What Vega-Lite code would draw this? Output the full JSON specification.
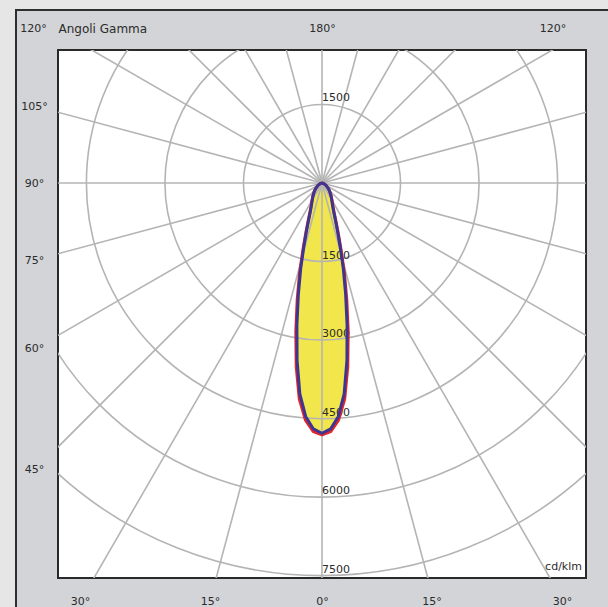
{
  "$schema": "https://vega.github.io/schema/vega-lite/v6.json",
  "width": 528,
  "height": 528,
  "autosize": "none",
  "padding": {"left": 58, "top": 50, "right": 22, "bottom": 29},
  "background": "#e6e6e6",
  "config": {
    "view": {"stroke": "#2a2a2a", "strokeWidth": 2},
    "font": "DejaVu Sans",
    "axis": {"labelFont": "DejaVu Sans", "labelFontSize": 11, "labelColor": "#2b2b2b", "domain": false, "ticks": false, "tickSize": 0, "grid": false, "titleFont": "DejaVu Sans"}
  },
  "datasets": {
    "lobe": [
      {"c": "red", "g": -90, "I": 0}, {"c": "red", "g": -80, "I": 10}, {"c": "red", "g": -70, "I": 40}, {"c": "red", "g": -60, "I": 90}, {"c": "red", "g": -50, "I": 150}, {"c": "red", "g": -45, "I": 195}, {"c": "red", "g": -40, "I": 245}, {"c": "red", "g": -35, "I": 305}, {"c": "red", "g": -30, "I": 385}, {"c": "red", "g": -25, "I": 500}, {"c": "red", "g": -22, "I": 630}, {"c": "red", "g": -20, "I": 780}, {"c": "red", "g": -18, "I": 1000}, {"c": "red", "g": -16, "I": 1320}, {"c": "red", "g": -14, "I": 1770}, {"c": "red", "g": -12, "I": 2280}, {"c": "red", "g": -10, "I": 2880}, {"c": "red", "g": -8, "I": 3540}, {"c": "red", "g": -6, "I": 4150}, {"c": "red", "g": -4, "I": 4540}, {"c": "red", "g": -2, "I": 4750},
      {"c": "red", "g": 0, "I": 4810},
      {"c": "red", "g": 2, "I": 4750}, {"c": "red", "g": 4, "I": 4540}, {"c": "red", "g": 6, "I": 4150}, {"c": "red", "g": 8, "I": 3540}, {"c": "red", "g": 10, "I": 2880}, {"c": "red", "g": 12, "I": 2280}, {"c": "red", "g": 14, "I": 1770}, {"c": "red", "g": 16, "I": 1320}, {"c": "red", "g": 18, "I": 1000}, {"c": "red", "g": 20, "I": 780}, {"c": "red", "g": 22, "I": 630}, {"c": "red", "g": 25, "I": 500}, {"c": "red", "g": 30, "I": 385}, {"c": "red", "g": 35, "I": 305}, {"c": "red", "g": 40, "I": 245}, {"c": "red", "g": 45, "I": 195}, {"c": "red", "g": 50, "I": 150}, {"c": "red", "g": 60, "I": 90}, {"c": "red", "g": 70, "I": 40}, {"c": "red", "g": 80, "I": 10}, {"c": "red", "g": 90, "I": 0},
      {"c": "blue", "g": -90, "I": 0}, {"c": "blue", "g": -80, "I": 10}, {"c": "blue", "g": -70, "I": 40}, {"c": "blue", "g": -60, "I": 90}, {"c": "blue", "g": -50, "I": 150}, {"c": "blue", "g": -45, "I": 190}, {"c": "blue", "g": -40, "I": 240}, {"c": "blue", "g": -35, "I": 300}, {"c": "blue", "g": -30, "I": 370}, {"c": "blue", "g": -25, "I": 480}, {"c": "blue", "g": -22, "I": 600}, {"c": "blue", "g": -20, "I": 740}, {"c": "blue", "g": -18, "I": 950}, {"c": "blue", "g": -16, "I": 1250}, {"c": "blue", "g": -14, "I": 1680}, {"c": "blue", "g": -12, "I": 2170}, {"c": "blue", "g": -10, "I": 2760}, {"c": "blue", "g": -8, "I": 3420}, {"c": "blue", "g": -6, "I": 4050}, {"c": "blue", "g": -4, "I": 4470}, {"c": "blue", "g": -2, "I": 4700},
      {"c": "blue", "g": 0, "I": 4780},
      {"c": "blue", "g": 2, "I": 4700}, {"c": "blue", "g": 4, "I": 4470}, {"c": "blue", "g": 6, "I": 4050}, {"c": "blue", "g": 8, "I": 3420}, {"c": "blue", "g": 10, "I": 2760}, {"c": "blue", "g": 12, "I": 2170}, {"c": "blue", "g": 14, "I": 1680}, {"c": "blue", "g": 16, "I": 1250}, {"c": "blue", "g": 18, "I": 950}, {"c": "blue", "g": 20, "I": 740}, {"c": "blue", "g": 22, "I": 600}, {"c": "blue", "g": 25, "I": 480}, {"c": "blue", "g": 30, "I": 370}, {"c": "blue", "g": 35, "I": 300}, {"c": "blue", "g": 40, "I": 240}, {"c": "blue", "g": 45, "I": 190}, {"c": "blue", "g": 50, "I": 150}, {"c": "blue", "g": 60, "I": 90}, {"c": "blue", "g": 70, "I": 40}, {"c": "blue", "g": 80, "I": 10}, {"c": "blue", "g": 90, "I": 0}
    ],
    "rings": [{"r": 1500}, {"r": 3000}, {"r": 4500}, {"r": 6000}, {"r": 7500}],
    "spokes": [{"a": 0}, {"a": 15}, {"a": 30}, {"a": 45}, {"a": 60}, {"a": 75}, {"a": 90}, {"a": 105}, {"a": 120}, {"a": 135}, {"a": 150}, {"a": 165}, {"a": 180}, {"a": 195}, {"a": 210}, {"a": 225}, {"a": 240}, {"a": 255}, {"a": 270}, {"a": 285}, {"a": 300}, {"a": 315}, {"a": 330}, {"a": 345}],
    "ringLabels": [{"v": 1500, "a": 180}, {"v": 1500, "a": 0}, {"v": 3000, "a": 0}, {"v": 4500, "a": 0}, {"v": 6000, "a": 0}, {"v": 7500, "a": 0}],
    "one": [{"unit": "cd/klm"}]
  },
  "resolve": {"axis": {"x": "independent", "y": "independent"}},
  "layer": [
    {
      "data": {"name": "one"},
      "mark": {"type": "rect", "fill": "#d3d4d8", "stroke": "#2e2e2e", "strokeWidth": 2},
      "encoding": {
        "x": {"datum": -5844.6, "type": "quantitative", "scale": {"domain": [-5042.4, 5042.4], "nice": false, "zero": false}, "axis": null},
        "x2": {"datum": 9000},
        "y": {"datum": 3304.3, "type": "quantitative", "scale": {"domain": [-7544.5, 2540.3], "nice": false, "zero": false}, "axis": null},
        "y2": {"datum": -11000}
      }
    },
    {
      "data": {"name": "one"},
      "mark": {"type": "rect", "fill": "#ffffff", "stroke": "#2a2a2a", "strokeWidth": 2},
      "encoding": {
        "x": {"datum": -5042.4, "type": "quantitative", "scale": {"domain": [-5042.4, 5042.4], "nice": false, "zero": false}, "axis": null},
        "x2": {"datum": 5042.4},
        "y": {"datum": -7544.5, "type": "quantitative", "scale": {"domain": [-7544.5, 2540.3], "nice": false, "zero": false}, "axis": null},
        "y2": {"datum": 2540.3}
      }
    },
    {
      "data": {"name": "lobe"},
      "transform": [
        {"filter": "datum.c == 'red'"},
        {"calculate": "datum.I * sin(datum.g * PI / 180)", "as": "px"},
        {"calculate": "-datum.I * cos(datum.g * PI / 180)", "as": "py"}
      ],
      "mark": {"type": "line", "fill": "#f1e64b", "strokeOpacity": 0, "strokeWidth": 0},
      "encoding": {
        "x": {"field": "px", "type": "quantitative", "scale": {"domain": [-5042.4, 5042.4], "nice": false, "zero": false}, "axis": null},
        "y": {"field": "py", "type": "quantitative", "scale": {"domain": [-7544.5, 2540.3], "nice": false, "zero": false}, "axis": null},
        "order": {"field": "g", "type": "quantitative"}
      }
    },
    {
      "data": {"name": "rings"},
      "transform": [{"calculate": "0", "as": "o"}],
      "mark": {"type": "point", "shape": "circle", "filled": false, "stroke": "#b4b4b4", "strokeWidth": 1.6, "opacity": 1, "clip": true},
      "encoding": {
        "x": {"field": "o", "type": "quantitative", "scale": {"domain": [-5042.4, 5042.4], "nice": false, "zero": false}, "axis": null},
        "y": {"field": "o", "type": "quantitative", "scale": {"domain": [-7544.5, 2540.3], "nice": false, "zero": false}, "axis": null},
        "size": {"field": "r", "type": "quantitative", "scale": {"type": "pow", "exponent": 2, "domain": [0, 7500], "range": [0, 616760], "zero": true}, "legend": null}
      }
    },
    {
      "data": {"name": "spokes"},
      "transform": [
        {"calculate": "0", "as": "o"},
        {"calculate": "12000 * sin(datum.a * PI / 180)", "as": "ex"},
        {"calculate": "-12000 * cos(datum.a * PI / 180)", "as": "ey"}
      ],
      "mark": {"type": "rule", "stroke": "#b4b4b4", "strokeWidth": 1.6, "clip": true},
      "encoding": {
        "x": {"field": "o", "type": "quantitative", "scale": {"domain": [-5042.4, 5042.4], "nice": false, "zero": false}, "axis": null},
        "y": {"field": "o", "type": "quantitative", "scale": {"domain": [-7544.5, 2540.3], "nice": false, "zero": false}, "axis": null},
        "x2": {"field": "ex"},
        "y2": {"field": "ey"}
      }
    },
    {
      "data": {"name": "ringLabels"},
      "transform": [
        {"calculate": "datum.v * sin(datum.a * PI / 180)", "as": "px"},
        {"calculate": "-datum.v * cos(datum.a * PI / 180)", "as": "py"}
      ],
      "mark": {"type": "text", "align": "left", "baseline": "alphabetic", "dx": 0, "dy": -3, "font": "DejaVu Sans", "fontSize": 11, "color": "#2b2b2b"},
      "encoding": {
        "x": {"field": "px", "type": "quantitative", "scale": {"domain": [-5042.4, 5042.4], "nice": false, "zero": false}, "axis": null},
        "y": {"field": "py", "type": "quantitative", "scale": {"domain": [-7544.5, 2540.3], "nice": false, "zero": false}, "axis": null},
        "text": {"field": "v", "type": "quantitative", "format": "d"}
      }
    },
    {
      "data": {"name": "lobe"},
      "transform": [
        {"filter": "datum.c == 'red'"},
        {"calculate": "datum.I * sin(datum.g * PI / 180)", "as": "px"},
        {"calculate": "-datum.I * cos(datum.g * PI / 180)", "as": "py"}
      ],
      "mark": {"type": "line", "stroke": "#e3262b", "strokeWidth": 3, "strokeJoin": "round"},
      "encoding": {
        "x": {"field": "px", "type": "quantitative", "scale": {"domain": [-5042.4, 5042.4], "nice": false, "zero": false},
          "axis": {"orient": "bottom", "zindex": 2, "values": [-4622, -2139, 0, 2091, 4584], "labelExpr": "datum.value < -3000 ? '30°' : datum.value < -1000 ? '15°' : datum.value < 1000 ? '0°' : datum.value < 3000 ? '15°' : '30°'", "labelPadding": 23, "labelBaseline": "middle", "labelFlush": false, "labelOverlap": false, "title": null}},
        "y": {"field": "py", "type": "quantitative", "scale": {"domain": [-7544.5, 2540.3], "nice": false, "zero": false},
          "axis": {"orient": "left", "zindex": 2, "values": [1452, 0, -1471, -3152, -5463], "labelExpr": "datum.value > 1000 ? '105°' : datum.value > -700 ? '90°' : datum.value > -2500 ? '75°' : datum.value > -4500 ? '60°' : '45°'", "labelAlign": "center", "labelBaseline": "middle", "labelPadding": 24, "labelFlush": false, "labelOverlap": false, "title": "120°", "titleAngle": 0, "titleAlign": "center", "titleBaseline": "middle", "titleX": -25, "titleY": -22, "titleFontSize": 11, "titleFontWeight": "normal", "titleColor": "#2b2b2b"}},
        "order": {"field": "g", "type": "quantitative"}
      }
    },
    {
      "data": {"name": "lobe"},
      "transform": [
        {"filter": "datum.c == 'blue'"},
        {"calculate": "datum.I * sin(datum.g * PI / 180)", "as": "px"},
        {"calculate": "-datum.I * cos(datum.g * PI / 180)", "as": "py"}
      ],
      "mark": {"type": "line", "stroke": "#3d3592", "strokeWidth": 3, "strokeJoin": "round"},
      "encoding": {
        "x": {"field": "px", "type": "quantitative", "scale": {"domain": [-5042.4, 5042.4], "nice": false, "zero": false},
          "axis": {"orient": "top", "zindex": 2, "values": [-5042.4, 0, 4402], "labelExpr": "datum.value < -5000 ? 'Angoli Gamma' : datum.value < 1000 ? '180°' : '120°'", "labelFontSize": {"condition": {"test": "datum.value < -5000", "value": 12}, "value": 11}, "labelFlush": true, "labelPadding": 22, "labelBaseline": "middle", "labelOverlap": false, "title": null}},
        "y": {"field": "py", "type": "quantitative", "scale": {"domain": [-7544.5, 2540.3], "nice": false, "zero": false}, "axis": null},
        "order": {"field": "g", "type": "quantitative"}
      }
    },
    {
      "data": {"name": "one"},
      "mark": {"type": "text", "align": "right", "baseline": "alphabetic", "dx": -4, "dy": -8, "font": "DejaVu Sans", "fontSize": 11, "color": "#2b2b2b"},
      "encoding": {
        "x": {"datum": 5042.4, "type": "quantitative", "scale": {"domain": [-5042.4, 5042.4], "nice": false, "zero": false}, "axis": null},
        "y": {"datum": -7544.5, "type": "quantitative", "scale": {"domain": [-7544.5, 2540.3], "nice": false, "zero": false}, "axis": null},
        "text": {"field": "unit", "type": "nominal"}
      }
    }
  ]
}
